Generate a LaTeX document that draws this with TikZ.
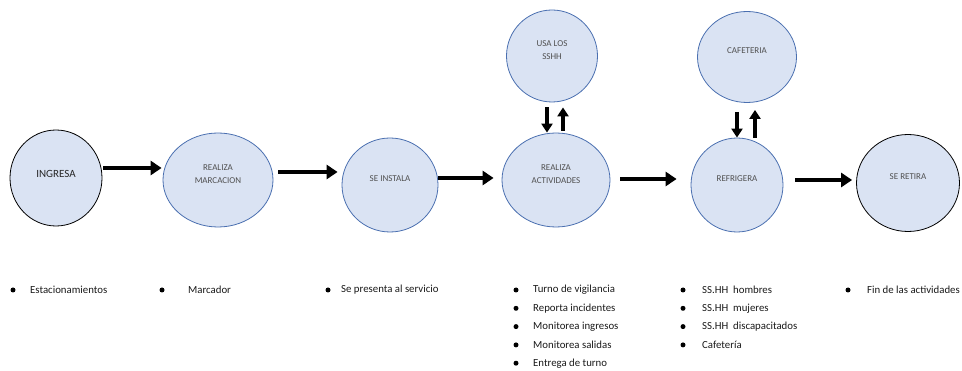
\documentclass[tikz,border=0pt]{standalone}
\usepackage{fontspec}
\setmainfont{Carlito}
\usetikzlibrary{shapes.geometric,arrows.meta}
\definecolor{statefill}{HTML}{DAE3F3}
\definecolor{stateline}{HTML}{4A6FB0}
\definecolor{statetext}{HTML}{505050}
\tikzstyle{state}=[ellipse, draw=stateline, fill=statefill, line width=0.8pt, inner sep=0pt]
\tikzstyle{end state}=[state, draw=black]
\tikzstyle{caption}=[align=center, text=statetext, font=\fontsize{9}{13}\selectfont]
\tikzstyle{flow}=[draw, line width=4pt, -{Triangle[length=11pt,width=14pt]}]
\tikzstyle{small flow}=[draw, line width=3.5pt, -{Triangle[length=9pt,width=11pt]}]
\tikzstyle{dot}=[circle, fill=black, minimum size=5pt, inner sep=0pt]
\tikzstyle{item}=[anchor=west, inner sep=0pt, text=black!90, font=\fontsize{10.8}{12}\selectfont]

\begin{document}
\begin{tikzpicture}[x=1pt, y=-1pt]
	\useasboundingbox (0,0) rectangle (962,371);
	% states
	\foreach \pos/\name/\w/\h/\txt in {{(218,180)/mar/110/94/REALIZA\\MARCACION}, {(390,185)/ins/96/94/SE INSTALA},
		{(556,180)/act/108/94/REALIZA\\ACTIVIDADES}, {(552,56)/ssh/91/92/USA LOS\\SSHH},
		{(737,185)/ref/92/94/REFRIGERA}, {(747,57)/caf/99/91/CAFETERIA}}
		\node[state, minimum width=\w, minimum height=\h, label={[caption, yshift=6pt]center:\txt}] (\name) at \pos {};
	\node[end state, minimum width=92, minimum height=96,
		label={[caption, text=black!85, font=\fontsize{11}{13}\selectfont, yshift=4pt]center:INGRESA}] (ing) at (56,178) {};
	\node[end state, minimum width=103, minimum height=97,
		label={[caption, yshift=6pt]center:SE RETIRA}] (ret) at (908,183) {};
	% main flow
	\foreach \source/\dest/\y/\a/\b in {ing/mar/168/1/1, mar/ins/172/5/4, ins/act/178/0/8, act/ref/179/10/14, ref/ret/180/12/4}
		\path[flow, shorten <=\a pt, shorten >=\b pt] (\source.east |- 0,\y) -- (\dest.west |- 0,\y);
	% side trips
	\path[small flow, shorten <=5pt] (547,0 |- ssh.south) -- (547,0 |- act.north);
	\path[small flow, shorten <=2pt, shorten >=5pt] (563,0 |- act.north) -- (563,0 |- ssh.south);
	\path[small flow, shorten <=9pt] (737,0 |- caf.south) -- (737,0 |- ref.north);
	\path[small flow, shorten >=7pt] (755,0 |- ref.north) -- (755,0 |- caf.south);
	% lists
	\foreach \x/\gap/\list [count=\c] in {13/17/{Estacionamientos}, 162/26/{Marcador}, 328/13/{Se presenta al servicio},
		516/17/{Turno de vigilancia, Reporta incidentes, Monitorea ingresos, Monitorea salidas, Entrega de turno},
		683/19/{SS.HH\ \ hombres, SS.HH\ \ mujeres, SS.HH\ \ discapacitados, Cafetería},
		848/19/{Fin de las actividades}}
		\foreach \txt [count=\i] in \list {
			\node[dot] (b\c-\i) at (\x, 290+18.3*\i-18.3) {};
			\node[item] (t\c-\i) at (\x+\gap, 290+18.3*\i-18.3) {\txt};
		}
\end{tikzpicture}
\end{document}
